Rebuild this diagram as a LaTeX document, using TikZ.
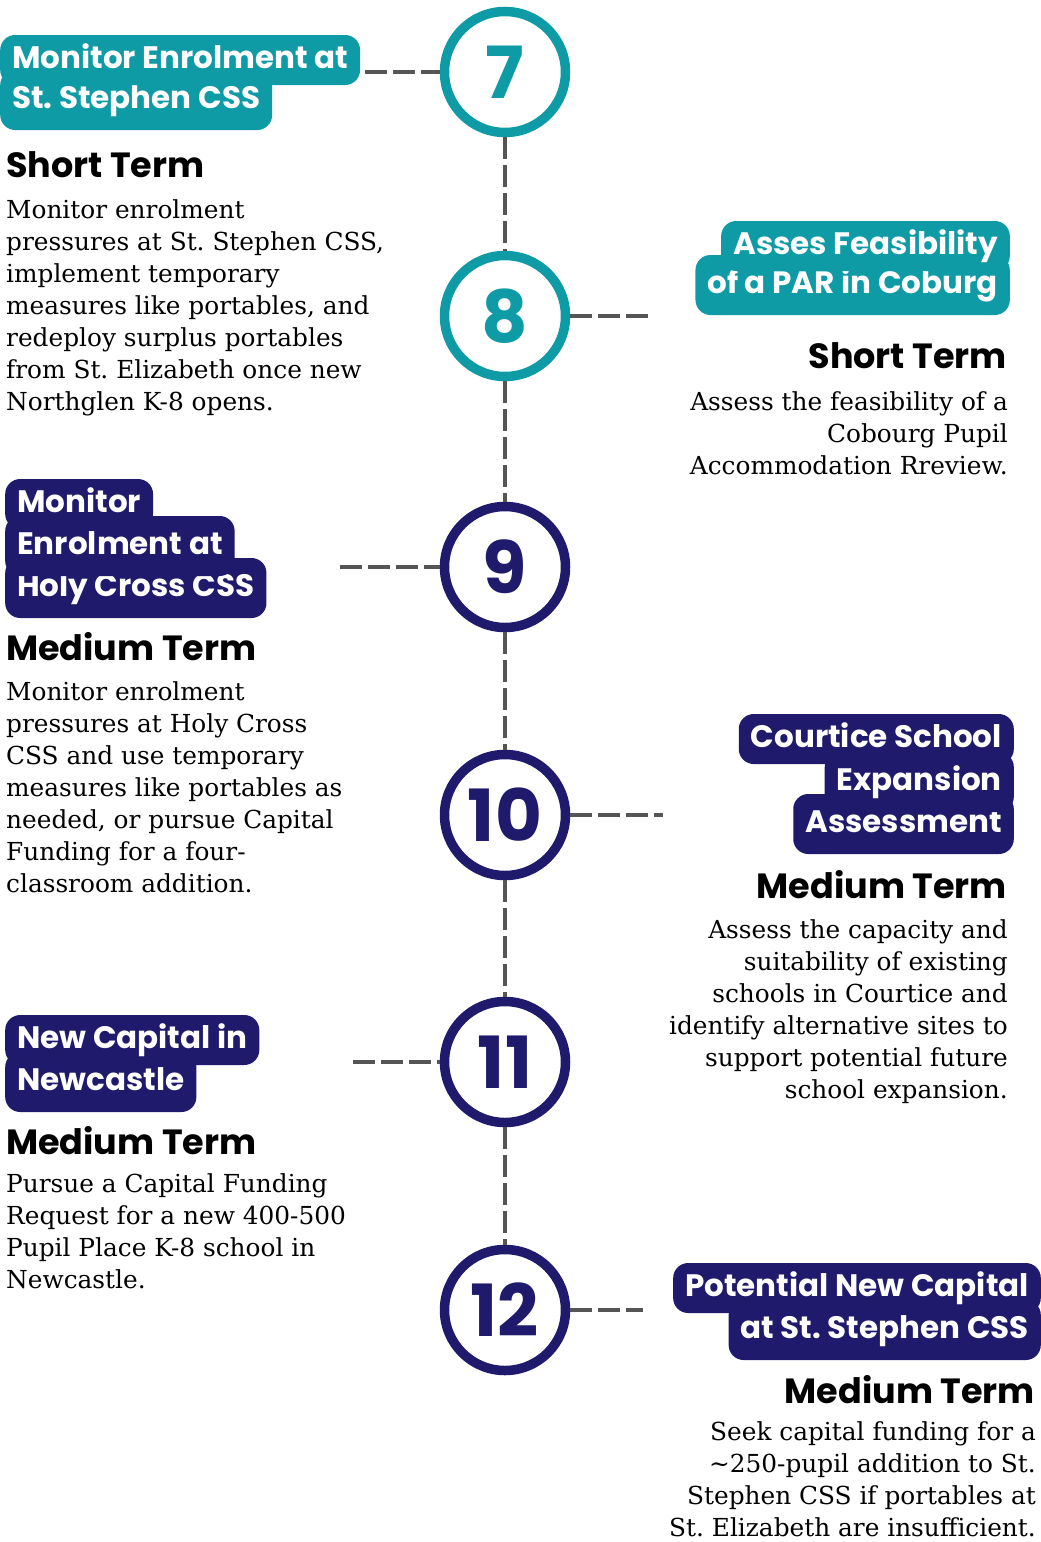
\documentclass[tikz,border=0pt]{standalone}
\usepackage{fontspec}
\setmainfont{DejaVu Serif}
\newfontfamily\popfont{Poppins}
\usetikzlibrary{positioning}
\definecolor{stepteal}{HTML}{0E9BA6}
\definecolor{stepnavy}{HTML}{1F1A6B}
\definecolor{dashgray}{HTML}{555555}
\frenchspacing

\begin{document}
\begin{tikzpicture}[x=1pt, y=-1pt,
    tagbox/.style={text=white, rounded corners=15pt, inner xsep=12pt, inner ysep=0pt,
      minimum height=50pt, text height=22pt, text depth=6pt,
      font=\popfont\bfseries\fontsize{31}{31}\selectfont},
    tagteal/.style={tagbox, fill=stepteal},
    tagnavy/.style={tagbox, fill=stepnavy},
    stepring/.style={circle, draw=#1, line width=9.5pt, fill=white, minimum size=121pt,
      inner sep=0pt, text=#1, font=\popfont\bfseries\fontsize{72}{72}\selectfont},
    termhead/.style={inner sep=0pt, font=\popfont\bfseries\fontsize{35}{35}\selectfont},
    termtext/.style={inner sep=0pt, font=\fontsize{24.8}{32}\selectfont},
    dashline/.style={dashgray, line width=4pt, dash pattern=on 22pt off 6pt}]
  \useasboundingbox (0,0) rectangle (1041,1542);

  % timeline circles
  \node[stepring=stepteal] (c7) at (505,72) {7};
  \node[stepring=stepteal] (c8) at (505,316) {8};
  \node[stepring=stepnavy] (c9) at (505,567) {9};
  \node[stepring=stepnavy] (c10) at (505,815) {10};
  \node[stepring=stepnavy] (c11) at (505,1062) {11};
  \node[stepring=stepnavy] (c12) at (505,1310) {12};

  \draw[dashline] (c7) -- (c8);
  \draw[dashline] (c8) -- (c9);
  \draw[dashline] (c9) -- (c10);
  \draw[dashline] (c10) -- (c11);
  \draw[dashline] (c11) -- (c12);

  % item 7
  \node[tagteal, anchor=west, minimum height=60pt] (t7b) at (0,100) {St. Stephen CSS};
  \node[tagteal, anchor=west] (t7a) at (0,60) {Monitor Enrolment at};
  \coordinate (d7) at (365,72);
  \draw[dashline] (d7) -- (c7);
  \node[termhead, anchor=west] (h7) at (6,165) {Short Term};
  \node[termtext, anchor=north west, align=left] (b7) at (6,199) {Monitor enrolment\\
    pressures at St. Stephen CSS,\\ implement temporary\\ measures like portables, and\\
    redeploy surplus portables\\ from St. Elizabeth once new\\ Northglen K-8 opens.};

  % item 8
  \node[tagteal, anchor=east, minimum height=60pt] (t8b) at (1010,285) {of a PAR in Coburg};
  \node[tagteal, anchor=east] (t8a) at (1010,246) {Asses Feasibility};
  \coordinate (d8) at (650,316);
  \draw[dashline] (c8) -- (d8);
  \node[termhead, anchor=east] (h8) at (1007,356) {Short Term};
  \node[termtext, anchor=north east, align=right] (b8) at (1008,391) {Assess the feasibility of a\\
    Cobourg Pupil\\ Accommodation Rreview.};

  % item 9
  \node[tagnavy, anchor=west, minimum height=60pt] (t9c) at (5,588) {Holy Cross CSS};
  \node[tagnavy, anchor=west, minimum height=60pt] (t9b) at (5,546) {Enrolment at};
  \node[tagnavy, anchor=west] (t9a) at (5,504) {Monitor};
  \coordinate (d9) at (340,567);
  \draw[dashline] (d9) -- (c9);
  \node[termhead, anchor=west] (h9) at (6,647) {Medium Term};
  \node[termtext, anchor=north west, align=left] (b9) at (6,681) {Monitor enrolment\\
    pressures at Holy Cross\\ CSS and use temporary\\ measures like portables as\\
    needed, or pursue Capital\\ Funding for a four-\\ classroom addition.};

  % item 10
  \node[tagnavy, anchor=east, minimum height=60pt] (t10c) at (1014,824) {Assessment};
  \node[tagnavy, anchor=east, minimum height=60pt] (t10b) at (1014,782) {Expansion};
  \node[tagnavy, anchor=east] (t10a) at (1014,739) {Courtice School};
  \coordinate (d10) at (663,815);
  \draw[dashline] (c10) -- (d10);
  \node[termhead, anchor=east] (h10) at (1007,885) {Medium Term};
  \node[termtext, anchor=north east, align=right] (b10) at (1008,919) {Assess the capacity and\\
    suitability of existing\\ schools in Courtice and\\ identify alternative sites to\\
    support potential future\\ school expansion.};

  % item 11
  \node[tagnavy, anchor=west, minimum height=60pt] (t11b) at (5,1082) {Newcastle};
  \node[tagnavy, anchor=west] (t11a) at (5,1040) {New Capital in};
  \coordinate (d11) at (353,1062);
  \draw[dashline] (d11) -- (c11);
  \node[termhead, anchor=west] (h11) at (6,1141) {Medium Term};
  \node[termtext, anchor=north west, align=left] (b11) at (6,1173) {Pursue a Capital Funding\\
    Request for a new 400-500\\ Pupil Place K-8 school in\\ Newcastle.};

  % item 12
  \node[tagnavy, anchor=east, minimum height=60pt] (t12b) at (1041,1330) {at St. Stephen CSS};
  \node[tagnavy, anchor=east] (t12a) at (1041,1288) {Potential New Capital};
  \coordinate (d12) at (643,1310);
  \draw[dashline] (c12) -- (d12);
  \node[termhead, anchor=east] (h12) at (1035,1390) {Medium Term};
  \node[termtext, anchor=north east, align=right] (b12) at (1036,1421) {Seek capital funding for a\\
    \textasciitilde250-pupil addition to St.\\ Stephen CSS if portables at\\
    St. Elizabeth are insufficient.};
\end{tikzpicture}
\end{document}
